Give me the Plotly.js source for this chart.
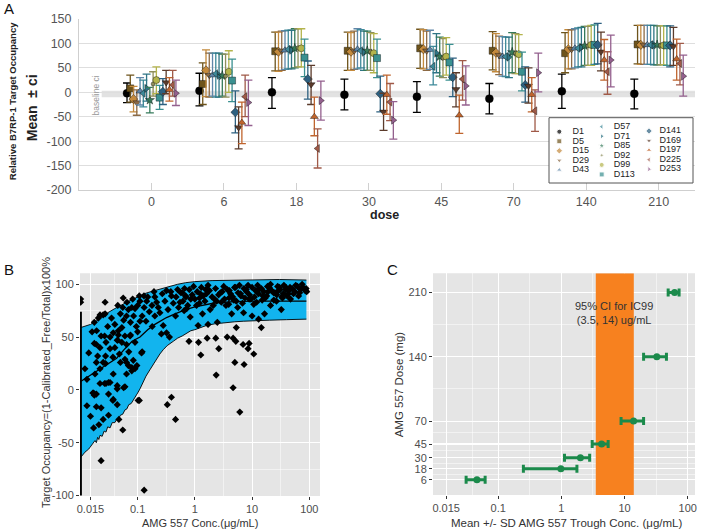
<!DOCTYPE html>
<html><head><meta charset="utf-8">
<script src="https://cdn.plot.ly/plotly-3.0.1.min.js"></script>
<style>html,body{margin:0;padding:0;background:#fff}#chart{width:701px;height:532px}</style>
</head><body><div id="chart"></div>
<script>
// ================= Panel A data =================
const doseLabels = ['0','6','18','30','45','70','140','210'];
const seriesNames = ['D1','D5','D15','D29','D43','D57','D71','D85','D92','D99','D113','D141','D169','D197','D225','D253'];
const seriesSymbols = ['circle','square','diamond','triangle-down','triangle-up','triangle-left','triangle-right','star','circle','circle','square','diamond','triangle-down','triangle-up','triangle-left','triangle-right'];
const seriesColors = ['#000000','#6e541c','#c48a3c','#8c6a45','#5f86a8','#3e8a9a','#2f7585','#357a5a','#8f8f5c','#b4b44c','#3a9090','#2d6080','#5b3b2b','#c0652e','#a05a48','#94608e'];
const baselineCI = [-10, 3];

const D1_mean = [-2, 3, 0, -5, -9, -13, 2, -3];
const D1_lo   = [-21, -28, -33, -36, -41, -44, -33, -34];
const D1_hi   = [19, 39, 30, 27, 22, 18, 37, 27];
const D5_mean = [8, 17, 84, 85, 90, 85, 80, 98];
const D5_lo   = [-20, -25, 44, 45, 49, 46, 40, 58];
const D5_hi   = [35, 60, 123, 123, 129, 124, 122, 137];
const D15_mean = [-14, 45, 83, 83, 88, 81, 88, 97];
const D15_lo   = [-40, -9, 43, 45, 48, 42, 48, 57];
const D15_hi   = [12, 87, 123, 122, 128, 120, 128, 137];
const D29_mean = [-21, 35, 85, 85, 85, 76, 88, 97];
const D29_lo   = [-47, -10, 45, 47, 45, 36, 48, 57];
const D29_hi   = [5, 80, 125, 125, 125, 115, 128, 137];
const D43_mean = [2, 35, 86, 88, 87, 73, 90, 97];
const D43_lo   = [-26, -8, 47, 48, 47, 33, 50, 57];
const D43_hi   = [30, 80, 126, 130, 127, 114, 130, 137];
const D57_mean = [-2, 38, 88, 85, 53, 73, 90, 97];
const D57_lo   = [-30, -10, 48, 50, 15, 32, 52, 57];
const D57_hi   = [25, 80, 127, 128, 94, 113, 132, 137];
const D71_mean = [8, 35, 86, 82, 80, 72, 92, 97];
const D71_lo   = [-18, -10, 48, 45, 40, 30, 52, 56];
const D71_hi   = [37, 80, 127, 125, 120, 113, 133, 137];
const D85_mean = [-16, 34, 90, 85, 73, 82, 95, 97];
const D85_lo   = [-42, -8, 50, 45, 33, 40, 55, 56];
const D85_hi   = [10, 78, 130, 125, 113, 122, 135, 136];
const D92_mean = [17, 33, 91, 83, 70, 80, 95, 96];
const D92_lo   = [-8, -10, 52, 45, 30, 38, 55, 56];
const D92_hi   = [42, 78, 130, 122, 110, 120, 135, 136];
const D99_mean = [25, 42, 90, 80, 73, 78, 97, 96];
const D99_lo   = [-3, 0, 52, 40, 35, 38, 55, 56];
const D99_hi   = [52, 85, 130, 120, 112, 118, 137, 136];
const D113_mean = [-11, 24, 71, 70, 61, 42, 97, 96];
const D113_lo   = [-35, -19, 32, 30, 25, 3, 57, 55];
const D113_hi   = [14, 68, 109, 109, 98, 82, 138, 136];
const D141_mean = [1, -41, 27, -3, 31, 15, 97, 96];
const D141_lo   = [-25, -83, -14, -40, -9, -20, 58, 52];
const D141_hi   = [28, 3, 64, 33, 70, 52, 141, 136];
const D169_mean = [20, -72, 16, -40, 6, 13, 83, 94];
const D169_lo   = [-3, -116, -25, -78, -30, -22, 44, 55];
const D169_hi   = [45, -30, 55, -2, 40, 50, 123, 133];
const D197_mean = [5, -62, -50, -5, -47, -5, 66, 68];
const D197_lo   = [-18, -105, -89, -45, -84, -40, 25, 25];
const D197_hi   = [30, -20, -10, 35, -6, 30, 108, 109];
const D225_mean = [15, -9, -115, -20, 27, -38, 42, 59];
const D225_lo   = [-8, -50, -155, -58, -16, -80, -4, 15];
const D225_hi   = [45, 35, -75, 18, 65, 5, 83, 100];
const D253_mean = [-2, -21, -17, -57, 13, 40, 66, 33];
const D253_lo   = [-27, -68, -57, -96, -26, 1, 11, -8];
const D253_hi   = [25, 25, 23, -19, 54, 80, 117, 76];

const meanA = [D1_mean,D5_mean,D15_mean,D29_mean,D43_mean,D57_mean,D71_mean,D85_mean,D92_mean,D99_mean,D113_mean,D141_mean,D169_mean,D197_mean,D225_mean,D253_mean];
const loA = [D1_lo,D5_lo,D15_lo,D29_lo,D43_lo,D57_lo,D71_lo,D85_lo,D92_lo,D99_lo,D113_lo,D141_lo,D169_lo,D197_lo,D225_lo,D253_lo];
const hiA = [D1_hi,D5_hi,D15_hi,D29_hi,D43_hi,D57_hi,D71_hi,D85_hi,D92_hi,D99_hi,D113_hi,D141_hi,D169_hi,D197_hi,D225_hi,D253_hi];

// ================= Panel B data =================
const lloqConc = 0.0101;
const lloqOccRange = [-100, 74];
const bandLowX = [0.0101,0.012,0.014,0.016,0.018,0.019,0.02,0.021,0.022,0.024,0.026,0.028,0.03,0.033,0.036,0.04,0.043,0.047,0.05,0.055,0.06,0.065,0.07,0.077,0.084,0.092,0.1,0.11,0.125,0.14,0.164,0.19,0.22,0.245,0.28,0.33,0.42,0.5,0.6,0.69,0.85,1.0,1.22,1.6,2.2,3.55,5,7,10,20,40,89];
const bandLowY = [-64,-59,-56,-52,-48,-50,-45,-47,-43,-44,-39,-40,-35,-36,-31,-31,-28,-27,-24,-23,-19,-18,-14,-13,-10,-6,-3,1,8,13,19,25,30,34,38,42,46,49,51,53,56,57,59,61,62.5,64,64.5,65,65.5,66,66.5,67];
const bandUpX = [0.0101,0.012,0.015,0.02,0.025,0.03,0.04,0.05,0.06,0.07,0.084,0.1,0.13,0.17,0.245,0.35,0.5,0.69,1,2,4.7,10,30,89];
const bandUpY = [59,60,62,66,70,73,77,80,82,84,86,88,91,93,95.5,98,100,101.5,102.5,103.5,104,104.5,104.5,104];
const medX = [0.0101,0.015,0.022,0.03,0.043,0.06,0.08,0.11,0.15,0.2,0.32,0.45,0.69,1,2.3,5,10,30,89];
const medY = [8,14,20,25,30,39,46,50,57,62,68.5,72,76,78.5,82.5,83.5,84,84,84];
const obsPoints = [
[0.023,-67],[0.13,-95],[0.047,-28],[0.055,-38],[0.102,-10],[0.107,-10],[0.33,-14],[0.39,-7],[0.46,-28],[0.79,46],[1.16,45],[1.27,33],[1.64,49],[2.32,49],[2.36,14],[2.62,39],[3.67,50],[4.66,49],[5.2,46],[4.66,2],[5.0,26],[6.1,-21],[7.25,24],[6.97,43],[8.5,39],[8.87,44],[10.7,34],
[0.027,83],[0.056,87],[0.082,86],[0.107,89],[0.129,89],[0.117,35],[0.193,93],[1.14,61],[1.7,62],[5.3,59],[14.5,59],[32.4,76],[87,94],
[0.0175,64],[0.0192,56],[0.0206,68],[0.022,71],[0.025,71],[0.027,72],[0.0175,44],[0.02,32],[0.022,40],[0.0265,51],[0.033,50],[0.0375,54],[0.046,56],[0.053,59],[0.057,66],[0.064,70],[0.069,76],[0.079,78],[0.09,77],[0.1,80],[0.045,47],[0.053,45],[0.06,51],[0.075,52],[0.048,34],[0.06,29],[0.069,23],[0.064,15],[0.079,18],[0.097,23],[0.084,28],[0.022,20],[0.019,26],[0.025,26],[0.0275,32],[0.0375,15],[0.033,7],[0.022,6],[0.0265,6],[0.017,-3],[0.0175,-5],[0.031,7],[0.044,1],[0.0375,-9],[0.019,-16],[0.023,-17],[0.06,3],[0.044,-14],
[0.017,-36],[0.021,-33],[0.025,-28],[0.031,-24],[0.028,6],[0.031,-4],[0.037,-10],[0.044,4],[0.057,2],[0.019,-4],[0.0165,-3],[0.018,15],[0.037,31],[0.05,26],[0.064,26],[0.079,21],[0.09,20],[0.0275,25],[0.033,39],[0.044,47],[0.064,43],[0.019,43],[0.023,51],[0.074,51],[0.12,36],[0.046,52],
[0.144,84],[0.178,80],[0.215,83],[0.245,73],[0.28,61],[0.32,54],[0.26,53],[0.36,50],[0.39,89],[0.32,94],[0.5,95],[0.55,83],[0.65,75],[0.46,70],[0.69,89],[0.83,69],[1.07,80],[1.21,87],[1.36,72],[1.55,95],[1.85,76],[2.2,86],[2.47,64],[2.8,92],[3.5,80],[3.95,87],[4.95,97],[5.6,78],[6.3,91],[7.9,95],[8.9,86],[10.7,81],[13,95],[15.5,89],[18.6,98],[23.7,92],[30,97],[38.5,95],[46,97],[43,91],[34,87],[26.7,84],[21,80],[16.5,72],[10,70],[4.4,72],[7.1,73],[13,67],
[0.6,92],[0.7,88],[0.8,95],[0.9,90],[1.0,86],[1.1,93],[1.3,97],[1.4,89],[1.6,91],[1.8,94],[2.0,88],[2.3,96],[2.6,90],[3.0,93],[3.3,86],[3.7,95],[4.2,91],[4.6,88],[5.1,97],[5.7,92],[6.4,89],[7.2,96],[8.0,93],[9.0,90],[10,97],[11.5,94],[13,91],[14.5,96],[16,93],[18,89],[20,97],[22,94],[25,92],[28,98],[31,95],[35,91],[39,97],[44,94],[50,96],[56,93],[62,98],[70,95],[78,97],[85,94],
[1.2,82],[1.5,84],[2.1,80],[2.9,83],[3.9,81],[5.3,84],[6.8,82],[9.5,86],[12,83],[17,87],[24,85],[33,88],[47,86],[65,89],
[0.75,80],[0.95,98],[1.25,91],[1.7,99],[2.4,84],[3.2,98],[4.0,94],[4.8,85],[6.0,99],[7.5,87],[8.5,99],[11,88],[12.5,99],[15,85],[19,93],[21,100],[27,90],[29,94],[36,99],[41,89],[53,91],[58,99],[68,92],[75,100],[88,96],[90,93],
[0.2,88],[0.23,78],[0.27,91],[0.3,84],[0.34,76],[0.38,93],[0.42,82],[0.47,88],[0.52,78],[0.57,92],[0.62,84],[0.66,96],[0.72,77],[0.85,86],
[0.12,70],[0.14,65],[0.16,74],[0.18,60],[0.13,78],[0.11,84],[0.15,88],[0.2,70],
[0.04,62],[0.05,72],[0.035,68],[0.03,60],[0.045,80],[0.055,78],[0.065,83],[0.075,64],[0.085,70],[0.095,60],[0.028,45],[0.04,40],[0.07,36],[0.09,45],[0.1,55],[0.11,65],
[0.015,-25],[0.013,10],[0.014,35],[0.016,55],[0.013,-15],[0.012,20],[0.0101,83],[0.0101,86]
];

// ================= Panel C data =================
const doseC = [6, 18, 30, 45, 70, 140, 210];
const troughMean = [0.046, 0.98, 2.0, 4.33, 13.9, 32.4, 62];
const troughLo = [0.031, 0.25, 1.12, 3.07, 8.8, 20, 49];
const troughHi = [0.062, 1.76, 2.8, 5.5, 20, 46, 73];
const ic99CI = [3.5, 14];
const concTicks = [0.015, 0.1, 1, 10, 100];

// ================= build =================
const W = 701, H = 532;
const PX = x => x / W, PY = y => 1 - y / H;
const FONT = 'Arial, "Liberation Sans", sans-serif';
const traces = [];

// Panel A
const nS = seriesNames.length, stepA = 0.045;
seriesNames.forEach((name, i) => {
  const m = meanA[i], lo = loA[i], hi = hiA[i];
  const off = (i - (nS - 1) / 2) * stepA;
  traces.push({
    type: 'scatter', mode: 'markers', xaxis: 'x', yaxis: 'y', name: name,
    x: doseLabels.map((d, g) => g + off), y: m,
    error_y: {type: 'data', symmetric: false, array: hi.map((h, k) => h - m[k]), arrayminus: lo.map((l, k) => m[k] - l),
      color: seriesColors[i], thickness: 1.3, width: 4},
    marker: {symbol: seriesSymbols[i], size: name === 'D92' ? 4 : (name === 'D1' ? 8 : 7), color: seriesColors[i],
      line: {color: 'rgba(0,0,0,0.55)', width: 0.7}},
    showlegend: false, hoverinfo: 'skip'
  });
});

// Panel B
const yRangeB = [-100.5, 110.4];
traces.push({type: 'scatter', mode: 'lines', xaxis: 'x2', yaxis: 'y2', x: bandLowX, y: bandLowY, line: {width: 0}, showlegend: false, hoverinfo: 'skip'});
traces.push({type: 'scatter', mode: 'lines', xaxis: 'x2', yaxis: 'y2', x: bandUpX, y: bandUpY, line: {width: 0}, fill: 'tonexty', fillcolor: '#12b4ee', showlegend: false, hoverinfo: 'skip'});
traces.push({type: 'scatter', mode: 'lines', xaxis: 'x2', yaxis: 'y2', x: bandLowX, y: bandLowY, line: {color: '#000', width: 0.9}, showlegend: false, hoverinfo: 'skip'});
traces.push({type: 'scatter', mode: 'lines', xaxis: 'x2', yaxis: 'y2', x: bandUpX, y: bandUpY, line: {color: '#000', width: 0.9}, showlegend: false, hoverinfo: 'skip'});
traces.push({type: 'scatter', mode: 'lines', xaxis: 'x2', yaxis: 'y2', x: medX, y: medY, line: {color: '#000', width: 1.3}, showlegend: false, hoverinfo: 'skip'});
traces.push({type: 'scatter', mode: 'lines', xaxis: 'x2', yaxis: 'y2', x: [lloqConc, lloqConc], y: lloqOccRange, line: {color: '#000', width: 2.5}, showlegend: false, hoverinfo: 'skip'});
traces.push({type: 'scatter', mode: 'markers', xaxis: 'x2', yaxis: 'y2', x: obsPoints.map(p => p[0]), y: obsPoints.map(p => p[1]),
  marker: {symbol: 'diamond', size: 5.5, color: '#000'}, showlegend: false, hoverinfo: 'skip'});

// Panel C
const yRangeC = [-10.5, 231];
traces.push({type: 'scatter', mode: 'lines', xaxis: 'x3', yaxis: 'y3',
  x: [ic99CI[0], ic99CI[1], ic99CI[1], ic99CI[0], ic99CI[0]],
  y: [yRangeC[0], yRangeC[0], yRangeC[1], yRangeC[1], yRangeC[0]],
  fill: 'toself', fillcolor: '#f7811f', line: {width: 0}, showlegend: false, hoverinfo: 'skip'});
traces.push({type: 'scatter', mode: 'markers', xaxis: 'x3', yaxis: 'y3', x: troughMean, y: doseC,
  error_x: {type: 'data', symmetric: false, array: troughHi.map((h, k) => h - troughMean[k]), arrayminus: troughLo.map((l, k) => troughMean[k] - l),
    color: '#1b8a4b', thickness: 3, width: 4},
  marker: {symbol: 'circle', size: 7, color: '#1b8a4b'}, showlegend: false, hoverinfo: 'skip'});

// Legend (pixel overlay axes)
const legBox = {x0: 549, x1: 693, y0: 117.7, y1: 183};
traces.push({type: 'scatter', mode: 'lines', xaxis: 'x4', yaxis: 'y4',
  x: [legBox.x0, legBox.x1, legBox.x1, legBox.x0, legBox.x0], y: [legBox.y0, legBox.y0, legBox.y1, legBox.y1, legBox.y0],
  fill: 'toself', fillcolor: '#fff', line: {color: '#555', width: 1}, showlegend: false, hoverinfo: 'skip'});
const legCols = [{mx: 559.3, tx: 572.5, y0: 131.7}, {mx: 601.7, tx: 613.8, y0: 126.7}, {mx: 649, tx: 659.5, y0: 131}];
const legColOf = [0,0,0,0,0,1,1,1,1,1,1,2,2,2,2,2];
const legRowOf = [0,1,2,3,4,0,1,2,3,4,5,0,1,2,3,4];
const legStep = 9.55;
const legMX = seriesNames.map((n, i) => legCols[legColOf[i]].mx);
const legTX = seriesNames.map((n, i) => legCols[legColOf[i]].tx);
const legMY = seriesNames.map((n, i) => legCols[legColOf[i]].y0 + legRowOf[i] * legStep);
traces.push({type: 'scatter', mode: 'markers', xaxis: 'x4', yaxis: 'y4', x: legMX, y: legMY,
  marker: {symbol: seriesSymbols, color: seriesColors, size: seriesNames.map(n => n === 'D92' ? 3 : 5)},
  showlegend: false, hoverinfo: 'skip'});
traces.push({type: 'scatter', mode: 'text', xaxis: 'x4', yaxis: 'y4', x: legTX, y: legMY, text: seriesNames,
  textposition: 'middle right', marker: {size: 1}, textfont: {family: FONT, size: 9, color: '#222'},
  showlegend: false, hoverinfo: 'skip'});

const annotations = [];
const ann = (x, y, text, size, opts) => Object.assign({xref: 'paper', yref: 'paper', x: PX(x), y: PY(y), text: text, showarrow: false,
  xanchor: 'center', yanchor: 'middle', font: {family: FONT, size: size, color: '#333'}}, opts || {});
annotations.push(ann(2, 8, 'A', 15, {xanchor: 'left', font: {family: FONT, size: 15, color: '#111'}}));
annotations.push(ann(2, 269.3, 'B', 15, {xanchor: 'left', font: {family: FONT, size: 15, color: '#111'}}));
annotations.push(ann(385, 269.3, 'C', 15, {xanchor: 'left', font: {family: FONT, size: 15, color: '#111'}}));
annotations.push(ann(12.5, 101.7, '<b>Relative B7RP-1 Target Occupancy</b>', 9.5, {textangle: -90, font: {family: FONT, size: 9.5, color: '#222'}}));
annotations.push(ann(31.7, 107.5, '<b>Mean \u00a0\u00b1 ci</b>', 14, {textangle: -90, font: {family: FONT, size: 14, color: '#222'}}));
annotations.push(ann(95, 95.5, 'baseline ci', 8.5, {textangle: -90, font: {family: FONT, size: 8.5, color: '#9a9a9a'}}));
annotations.push(ann(384, 215, '<b>dose</b>', 12.5, {borderpad: 0, font: {family: FONT, size: 12.5, color: '#222'}}));
annotations.push(ann(46, 383, 'Target Occupancy=(1-Calibrated_Free/Total)x100%', 11, {textangle: -90}));
annotations.push(ann(200.3, 522.7, 'AMG 557 Conc.(\u03bcg/mL)', 11));
annotations.push(ann(399.3, 384, 'AMG 557 Dose (mg)', 11.5, {textangle: -90}));
annotations.push(ann(566.7, 523.3, 'Mean +/- SD AMG 557 Trough Conc. (\u03bcg/mL)', 11.5));
annotations.push(ann(613.5, 312.5, '95% CI for IC99<br>(3.5, 14) ug/mL', 11));

const fmt = v => String(v);
const tickFontBC = {family: FONT, size: 11, color: '#4d4d4d'};
const layout = {
  width: W, height: H, margin: {l: 0, r: 0, t: 0, b: 0},
  paper_bgcolor: '#fff', plot_bgcolor: 'rgba(0,0,0,0)', showlegend: false,
  font: {family: FONT},
  xaxis: {domain: [PX(79), PX(695)], anchor: 'y', range: [-1, 7.5], tickmode: 'array', tickvals: doseLabels.map((d, i) => i), ticktext: doseLabels,
    showgrid: false, zeroline: false, showline: true, linecolor: '#cfcfcf', ticks: 'inside', ticklen: 7, tickcolor: '#d0d0d0',
    tickfont: {family: FONT, size: 12.5, color: '#555'}, fixedrange: true},
  yaxis: {domain: [PY(190), PY(19)], anchor: 'x', range: [-200, 150], tickmode: 'array',
    tickvals: [-200,-150,-100,-50,0,50,100,150], ticktext: ['-200','-150','-100','-50','0','50','100','150'],
    showgrid: true, gridcolor: '#dedede', zeroline: false, showline: true, linecolor: '#cfcfcf', ticks: '', ticklabelstandoff: 4,
    tickfont: {family: FONT, size: 12.5, color: '#555'}, fixedrange: true},
  xaxis2: {domain: [PX(80), PX(320)], anchor: 'y2', type: 'log', range: [-2.007, 2.187], tickmode: 'array', tickvals: concTicks, ticktext: concTicks.map(fmt),
    showgrid: true, gridcolor: '#fff', gridwidth: 1.1, zeroline: false, showline: false, ticks: 'outside', ticklen: 3, tickcolor: '#333',
    minor: {tickmode: 'array', tickvals: [0.0387, 0.316, 3.16, 31.6], showgrid: true, gridcolor: '#fff', gridwidth: 0.5, ticks: ''},
    tickfont: tickFontBC, fixedrange: true},
  yaxis2: {domain: [PY(496), PY(273.3)], anchor: 'x2', range: yRangeB, tickmode: 'array', tickvals: [-100,-50,0,50,100], ticktext: ['-100','-50','0','50','100'],
    showgrid: true, gridcolor: '#fff', gridwidth: 1.1, zeroline: false, showline: false, ticks: 'outside', ticklen: 3, tickcolor: '#333',
    minor: {tickmode: 'array', tickvals: [-75,-25,25,75], showgrid: true, gridcolor: '#fff', gridwidth: 0.5, ticks: ''},
    tickfont: tickFontBC, fixedrange: true},
  xaxis3: {domain: [PX(433), PX(695)], anchor: 'y3', type: 'log', range: [-2.033, 2.115], tickmode: 'array', tickvals: concTicks, ticktext: concTicks.map(fmt),
    showgrid: true, gridcolor: '#fff', gridwidth: 1.1, zeroline: false, showline: false, ticks: 'outside', ticklen: 3, tickcolor: '#333',
    minor: {tickmode: 'array', tickvals: [0.0387, 0.316, 3.16, 31.6], showgrid: true, gridcolor: '#fff', gridwidth: 0.5, ticks: ''},
    tickfont: tickFontBC, fixedrange: true},
  yaxis3: {domain: [PY(495), PY(273.3)], anchor: 'x3', range: yRangeC, tickmode: 'array', tickvals: doseC, ticktext: doseC.map(String),
    showgrid: true, gridcolor: '#fff', gridwidth: 1.1, zeroline: false, showline: false, ticks: 'outside', ticklen: 3, tickcolor: '#333',
    minor: {tickmode: 'array', tickvals: [12, 24, 37.5, 57.5, 105, 175], showgrid: true, gridcolor: '#fff', gridwidth: 0.5, ticks: ''},
    tickfont: tickFontBC, fixedrange: true},
  xaxis4: {domain: [0, 1], anchor: 'y4', range: [0, W], visible: false, fixedrange: true},
  yaxis4: {domain: [0, 1], anchor: 'x4', range: [H, 0], visible: false, fixedrange: true},
  shapes: [
    {type: 'rect', xref: 'x domain', yref: 'y', x0: (101.7 - 79) / 616, x1: 1, y0: baselineCI[0], y1: baselineCI[1], fillcolor: '#e2e2e2', line: {width: 0}, layer: 'below'},
    {type: 'rect', xref: 'x2 domain', yref: 'y2 domain', x0: 0, x1: 1, y0: 0, y1: 1, fillcolor: '#e5e5e5', line: {width: 0}, layer: 'below'},
    {type: 'rect', xref: 'x3 domain', yref: 'y3 domain', x0: 0, x1: 1, y0: 0, y1: 1, fillcolor: '#e5e5e5', line: {width: 0}, layer: 'below'}
  ],
  annotations: annotations
};
Plotly.newPlot('chart', traces, layout, {staticPlot: true, displayModeBar: false});
</script>
</body></html>
